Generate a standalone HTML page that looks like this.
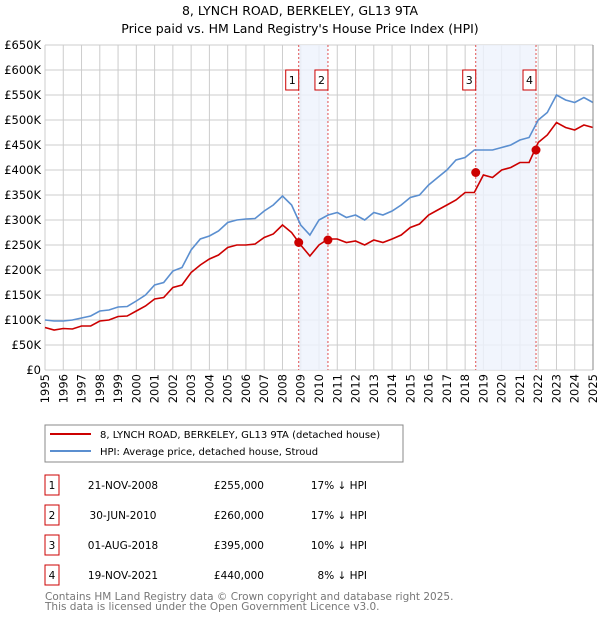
<!DOCTYPE html>
<html><head><meta charset="utf-8"><style>
body{margin:0;background:#fff;font-family:"DejaVu Sans","Liberation Sans",sans-serif;}
svg text{font-family:"DejaVu Sans","Liberation Sans",sans-serif;}
</style></head><body>
<svg id="c" width="600" height="620" xmlns="http://www.w3.org/2000/svg">
<text x="300" y="15" text-anchor="middle" font-size="12.5">8, LYNCH ROAD, BERKELEY, GL13 9TA</text>
<text x="300" y="33" text-anchor="middle" font-size="12.5">Price paid vs. HM Land Registry's House Price Index (HPI)</text>
<g id="grid"></g><g id="bands"></g><g id="series"></g><g id="axes"></g>
<rect x="45" y="425" width="358" height="37" fill="#fff" stroke="#888"/>
<line x1="50" y1="434" x2="91" y2="434" stroke="#cc0000" stroke-width="2"/>
<text x="100" y="438" font-size="10">8, LYNCH ROAD, BERKELEY, GL13 9TA (detached house)</text>
<line x1="50" y1="451" x2="91" y2="451" stroke="#5b8fd0" stroke-width="2"/>
<text x="100" y="455" font-size="10">HPI: Average price, detached house, Stroud</text>
<g id="table"></g>
<text x="45" y="600" font-size="10.5" fill="#777">Contains HM Land Registry data © Crown copyright and database right 2025.</text>
<text x="45" y="610" font-size="10.5" fill="#777">This data is licensed under the Open Government Licence v3.0.</text>
</svg>
<script>
const hpiValues=[100,98,98,100,104,108,118,120,126,127,138,150,170,175,198,205,240,262,268,278,295,300,302,303,318,330,348,330,290,270,300,310,315,305,310,300,315,310,318,330,345,350,370,385,400,420,425,440,440,440,445,450,460,465,500,515,550,540,535,545,535];
const priceValues=[85,80,83,82,88,88,98,100,107,108,118,128,142,145,165,170,195,210,222,230,245,250,250,252,265,272,290,275,250,228,250,262,262,255,258,250,260,255,262,270,285,292,310,320,330,340,355,355,390,385,400,405,415,415,455,470,495,485,480,490,485];
const saleDates=[2008.89,2010.49,2018.58,2021.88];
const salePrices=[255,260,395,440];
const saleLabels=["1","2","3","4"];
const saleDateText=["21-NOV-2008","30-JUN-2010","01-AUG-2018","19-NOV-2021"];
const salePriceText=["£255,000","£260,000","£395,000","£440,000"];
const saleHpiText=["17% ↓ HPI","17% ↓ HPI","10% ↓ HPI","8% ↓ HPI"];
const yTicks=[0,50,100,150,200,250,300,350,400,450,500,550,600,650];
const yTickLabels=["£0","£50K","£100K","£150K","£200K","£250K","£300K","£350K","£400K","£450K","£500K","£550K","£600K","£650K"];
const xYears=[];for(let y=1995;y<=2025;y++)xYears.push(y);
const X0=45,X1=593,Y0=370,Y1=45;
const xs=t=>X0+(t-1995)/30*(X1-X0);
const ys=v=>Y0-v/650*(Y0-Y1);
const NS="http://www.w3.org/2000/svg";
function mk(tag,attrs,parent,txt){const e=document.createElementNS(NS,tag);for(const k in attrs)e.setAttribute(k,attrs[k]);if(txt!==undefined)e.textContent=txt;document.getElementById(parent).appendChild(e);return e;}
yTicks.forEach((v,i)=>{
 const l=mk('line',{x1:X0,x2:X1,y1:ys(v),y2:ys(v),stroke:'#ccc'},'grid');
 
 
 const t=mk('text',{x:41,y:ys(v)+4,'text-anchor':'end','font-size':'11.5'},'axes',yTickLabels[i]);
 
 
});
xYears.forEach(y=>{
 const l=mk('line',{x1:xs(y),x2:xs(y),y1:Y1,y2:Y0,stroke:'#ccc'},'grid');
 
 
 const t=mk('text',{x:0,y:0,'text-anchor':'end','font-size':'11.5',transform:`translate(${xs(y)+4},374) rotate(-90)`},'axes',String(y));
 
 
});
[[0,1],[2,3]].forEach(p=>{
 const r=mk('rect',{x:xs(saleDates[p[0]]),y:Y1,width:xs(saleDates[p[1]])-xs(saleDates[p[0]]),height:Y0-Y1,fill:'#eef3fc',opacity:0.8},'bands');
 
 
});
saleDates.forEach((d,i)=>{
 const l=mk('line',{x1:xs(d),x2:xs(d),y1:Y1,y2:Y0,stroke:'#e05050','stroke-dasharray':'2,2'},'bands');
 
 
 const b=mk('rect',{x:xs(d)-13,y:70,width:13,height:20,fill:'#fff',stroke:'#cc0000'},'series');
 
 
 const t=mk('text',{x:xs(d)-6.5,y:84,'text-anchor':'middle','font-size':'11'},'series',saleLabels[i]);
 
 
});
mk('line',{x1:X1,x2:X1,y1:Y1,y2:Y0,stroke:'#888'},'axes');
function path(vals,color,name){
 const d=vals.map((v,i)=>(i?'L':'M')+xs(1995+i*0.5).toFixed(1)+','+ys(v).toFixed(1)).join('');
 const p=mk('path',{d:d,fill:'none',stroke:color,'stroke-width':1.6},'series');
 
 
}
path(hpiValues,'#5b8fd0','hpi-line');
path(priceValues,'#cc0000','price-line');
saleDates.forEach((d,i)=>{
 const c=mk('circle',{cx:xs(d),cy:ys(salePrices[i]),r:4.5,fill:'#cc0000'},'series');
 
 
});
saleDates.forEach((d,i)=>{
 const y=475+i*30;
 const b=mk('rect',{x:45,y:y,width:14,height:20,fill:'#fff',stroke:'#cc0000'},'table');
 
 
 const cells=[[52,saleLabels[i],'middle'],[123,saleDateText[i],'middle'],[264,salePriceText[i],'end'],[367,saleHpiText[i],'end']];
 cells.forEach(c=>{
  const t=mk('text',{x:c[0],y:y+14,'text-anchor':c[2],'font-size':'10.5'},'table',c[1]);
  
  
 });
});
</script>
</body></html>
